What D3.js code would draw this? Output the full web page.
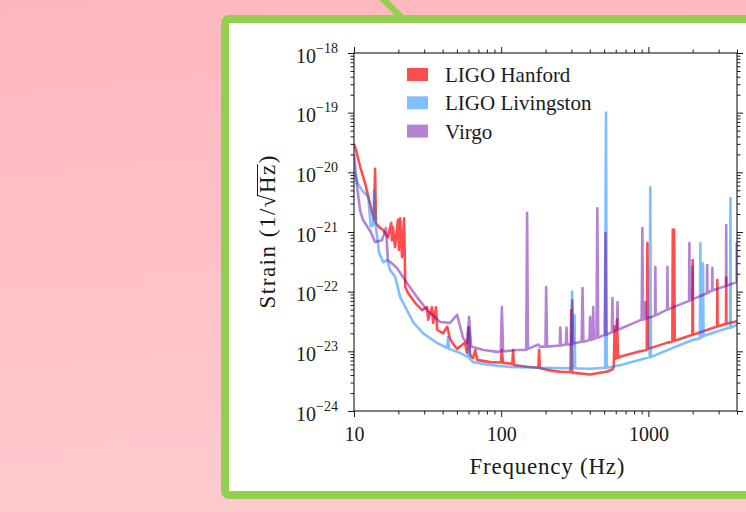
<!DOCTYPE html>
<html>
<head>
<meta charset="utf-8">
<script src="https://cdn.jsdelivr.net/npm/d3@7"></script>
<style>
  html, body { margin: 0; padding: 0; overflow: hidden; }
  svg { display: block; }
</style>
</head>
<body>
<svg id="chart" width="746" height="512"></svg>
<script>
// Amplitude spectral density, [frequency (Hz), strain (1/sqrt(Hz))]
const hanford = [
  [10, 3.0e-20], [10.3, 2.4e-20], [11.0, 1.25e-20], [11.9, 6.6e-21], [12.5, 3.9e-21],
  [13.3, 2.1e-21], [13.7, 1.6e-21], [13.9, 1.15e-20], [14.1, 1.4e-21], [15.0, 1.17e-21],
  [15.8, 1.08e-21], [17.0, 8.2e-22], [17.9, 1.42e-21], [18.1, 7.3e-22], [18.4, 1.2e-21],
  [19.0, 5.6e-22], [19.9, 1.6e-21], [20.2, 5.0e-22], [20.6, 1.7e-21], [21.2, 3.8e-22],
  [21.9, 1.7e-21], [22.3, 1.2e-22], [23.3, 9.5e-23], [26.0, 6.5e-23], [29.0, 4.9e-23],
  [31.4, 5.5e-23], [31.9, 3.4e-23], [33.9, 5.5e-23], [34.5, 3.0e-23], [36.1, 5.5e-23],
  [36.7, 2.3e-23], [40.3, 2.0e-23], [42.9, 2.6e-23], [45.0, 1.6e-23], [47.5, 1.3e-23],
  [50.2, 1.1e-23], [52.6, 1.2e-23], [56.8, 1.4e-23], [58.5, 9.5e-24], [59.8, 2.5e-23],
  [61.5, 8.7e-24], [64.4, 7.7e-24], [66.6, 1.05e-23], [68.7, 7.2e-24], [84.0, 6.6e-24],
  [99.5, 6.5e-24], [101, 1.05e-23], [103, 6.4e-24], [119, 6.2e-24], [120.5, 1.05e-23],
  [122, 5.9e-24], [150, 5.5e-24], [179, 5.3e-24], [181, 1.05e-23], [183, 5.2e-24],
  [225, 4.7e-24], [260, 4.5e-24], [296, 4.5e-24], [299, 4.9e-23], [303, 4.4e-24],
  [402, 4.1e-24], [527, 4.6e-24], [570, 5.0e-24], [582, 5.5e-24], [590, 2.6e-23],
  [600, 7.5e-24], [612, 3.4e-23], [622, 7.8e-24], [650, 8.2e-24], [880, 1.0e-23],
  [975, 1.05e-23], [985, 6.5e-22], [995, 1.1e-23], [1350, 1.4e-23], [1455, 1.45e-23],
  [1465, 1.1e-21], [1480, 1.0e-21], [1495, 1.1e-21], [1510, 1.5e-23], [1990, 1.9e-23],
  [2000, 3.4e-22], [2010, 1.9e-23], [2930, 2.6e-23], [2940, 1.57e-22], [2950, 2.6e-23],
  [3370, 2.9e-23], [3380, 1.7e-22], [3390, 2.9e-23], [4000, 3.2e-23]
];

const livingston = [
  [10, 1.0e-20], [10.6, 6.5e-21], [11.5, 4.8e-21], [12.5, 3.9e-21], [13.0, 1.25e-21],
  [13.5, 1.3e-21], [13.7, 5.0e-21], [14.1, 1.2e-21], [14.8, 4.5e-22], [15.8, 3.1e-22],
  [16.8, 3.4e-22], [17.6, 2.3e-22], [19.0, 1.8e-22], [20.6, 8.1e-23], [22.9, 4.9e-23],
  [25.2, 3.1e-23], [29.5, 2.0e-23], [36.7, 1.38e-23], [42.9, 1.14e-23], [43.6, 1.74e-23],
  [44.3, 1.1e-23], [52.6, 9.4e-24], [59.6, 8.0e-24], [60.5, 2.5e-23], [61.5, 7.5e-24],
  [64.4, 6.6e-24], [84, 5.9e-24], [110, 5.5e-24], [183, 5.3e-24], [300, 5.2e-24],
  [303, 1.0e-22], [306, 5.2e-24], [312, 5.2e-24], [315, 4.0e-23], [318, 5.2e-24],
  [400, 5.1e-24], [508, 5.3e-24], [515, 1.0e-19], [522, 5.3e-24], [650, 5.9e-24],
  [880, 7.2e-24], [1020, 8.0e-24], [1030, 5.6e-21], [1040, 8.0e-24], [1350, 1.05e-23],
  [2000, 1.55e-23], [2240, 1.65e-23], [2255, 6.5e-22], [2270, 1.7e-23], [2330, 1.75e-23],
  [2350, 3.0e-22], [2370, 1.8e-23], [3000, 2.2e-23], [3590, 2.5e-23], [3610, 3.7e-21],
  [3630, 2.5e-23], [4000, 2.8e-23]
];

const virgo = [
  [10, 2.0e-20], [10.2, 1.23e-20], [10.5, 5.7e-21], [11.0, 2.3e-21], [11.5, 1.6e-21],
  [13.0, 1.0e-21], [13.9, 6.8e-22], [15.5, 7.3e-22], [16.5, 1.17e-21], [17.0, 3.4e-22],
  [19.6, 2.5e-22], [22.9, 1.4e-22], [26.8, 8.1e-23], [31.4, 4.9e-23], [38.5, 3.1e-23],
  [45, 3.0e-23], [50.2, 4.1e-23], [55.1, 1.67e-23], [58.8, 1.38e-23], [60.5, 3.8e-23],
  [62.5, 1.2e-23], [64.4, 1.18e-23], [75.6, 1.05e-23], [93.9, 9.8e-24], [99.5, 1.0e-23],
  [101, 5.5e-23], [103, 1.0e-23], [128, 1.05e-23], [148, 1.05e-23], [150, 2.1e-21],
  [152, 1.1e-23], [179, 1.3e-23], [183, 1.2e-23], [200, 1.2e-23], [202, 1.2e-22],
  [205, 1.2e-23], [250, 1.25e-23], [252, 2.5e-23], [255, 1.25e-23], [275, 1.3e-23],
  [278, 2.5e-23], [281, 1.3e-23], [300, 1.3e-23], [304, 7.2e-23], [308, 1.35e-23],
  [352, 1.45e-23], [357, 1.15e-22], [362, 1.45e-23], [398, 1.55e-23], [402, 3.8e-23],
  [406, 1.55e-23], [418, 1.6e-23], [422, 5.5e-23], [426, 1.6e-23], [444, 1.7e-23],
  [450, 2.5e-21], [456, 1.7e-23], [505, 1.9e-23], [511, 9.6e-22], [517, 1.9e-23],
  [565, 2.1e-23], [570, 7.8e-23], [575, 2.1e-23], [612, 2.3e-23], [617, 6.7e-23],
  [622, 2.3e-23], [900, 3.4e-23], [910, 1.17e-21], [920, 3.4e-23], [950, 3.5e-23],
  [955, 6.7e-23], [960, 3.5e-23], [1110, 4.0e-23], [1115, 2.6e-22], [1120, 4.0e-23],
  [1340, 5.0e-23], [1347, 2.6e-22], [1354, 5.0e-23], [1480, 5.5e-23], [1890, 7.0e-23],
  [1900, 6.5e-22], [1910, 7.0e-23], [1990, 7.5e-23], [1997, 2.6e-22], [2005, 7.5e-23],
  [2500, 9.4e-23], [2510, 2.8e-22], [2520, 9.5e-23], [2710, 1.05e-22], [2720, 2.5e-22],
  [2730, 1.05e-22], [3370, 1.25e-22], [3380, 1.31e-21], [3390, 1.25e-22], [3975, 1.45e-22],
  [3985, 6.5e-22], [3995, 1.45e-22], [4000, 1.45e-22]
];

const seriesNames = ["LIGO Hanford", "LIGO Livingston", "Virgo"];
const xMajor = [10, 100, 1000];
const xTickLabels = ["10", "100", "1000"];
const yExponents = [-24, -23, -22, -21, -20, -19, -18];

const colors = ["#ff0000", "#0080ff", "#6a0aa8"];
const alphas = [0.7, 0.5, 0.5];

const plotLeft = 354, plotRight = 737, plotTop = 53, plotBottom = 411;

const svg = d3.select("#chart");

// background
const defs = svg.append("defs");
const grad = defs.append("linearGradient")
  .attr("id", "bg").attr("x1", 0).attr("y1", 0).attr("x2", 0.15).attr("y2", 1);
grad.append("stop").attr("offset", "0%").attr("stop-color", "#ffb7be");
grad.append("stop").attr("offset", "100%").attr("stop-color", "#ffcacd");
defs.append("clipPath").attr("id", "plotclip")
  .append("rect").attr("x", plotLeft).attr("y", plotTop)
  .attr("width", plotRight - plotLeft).attr("height", plotBottom - plotTop);

svg.append("rect").attr("width", 746).attr("height", 512).attr("fill", "url(#bg)");

svg.append("line")
  .attr("x1", 368).attr("y1", -16).attr("x2", 406).attr("y2", 22)
  .attr("stroke", "#92d050").attr("stroke-width", 6.5);

svg.append("rect")
  .attr("x", 225).attr("y", 19).attr("width", 620).attr("height", 476)
  .attr("rx", 4)
  .attr("fill", "#ffffff").attr("stroke", "#92d050").attr("stroke-width", 8);

const x = d3.scaleLog().domain([10, 4000]).range([plotLeft, plotRight]);
const y = d3.scaleLog().domain([1e-24, 1e-18]).range([plotBottom, plotTop]);

const yMajor = yExponents.map(e => Math.pow(10, e));
const isMajor = v => Math.abs(Math.log10(v) - Math.round(Math.log10(v))) < 1e-6;
const xMinor = x.ticks().filter(v => !isMajor(v));
const yMinor = y.ticks().filter(v => !isMajor(v));

const font = "'Liberation Serif', 'Times New Roman', serif";
const ink = "#1a1a1a";

// lines
const line = d3.line().x(d => x(d[0])).y(d => y(d[1]));
const plot = svg.append("g").attr("clip-path", "url(#plotclip)");
[hanford, livingston, virgo].forEach((data, i) => {
  plot.append("path")
    .datum(data)
    .attr("d", line)
    .attr("fill", "none")
    .attr("stroke", colors[i])
    .attr("stroke-opacity", alphas[i])
    .attr("stroke-width", 2.6)
    .attr("stroke-linejoin", "round");
});

// axes
function styleAxis(g) {
  g.select(".domain").remove();
  g.selectAll(".tick line").attr("stroke", ink).attr("stroke-width", 1);
}

const yLeft = svg.append("g").attr("transform", `translate(${plotLeft},0)`)
  .call(d3.axisLeft(y).tickValues(yMajor).tickSize(6).tickFormat(""))
  .call(styleAxis);
svg.append("g").attr("transform", `translate(${plotLeft},0)`)
  .call(d3.axisLeft(y).tickValues(yMinor).tickSize(3.5).tickFormat(""))
  .call(styleAxis);
svg.append("g").attr("transform", `translate(${plotRight},0)`)
  .call(d3.axisRight(y).tickValues(yMajor).tickSize(6).tickFormat(""))
  .call(styleAxis);
svg.append("g").attr("transform", `translate(${plotRight},0)`)
  .call(d3.axisRight(y).tickValues(yMinor).tickSize(3.5).tickFormat(""))
  .call(styleAxis);

const xBottom = svg.append("g").attr("transform", `translate(0,${plotBottom})`)
  .call(d3.axisBottom(x).tickValues(xMajor).tickSize(6).tickFormat((d, i) => xTickLabels[i]))
  .call(styleAxis);
svg.append("g").attr("transform", `translate(0,${plotBottom})`)
  .call(d3.axisBottom(x).tickValues(xMinor).tickSize(3.5).tickFormat(""))
  .call(styleAxis);
svg.append("g").attr("transform", `translate(0,${plotTop})`)
  .call(d3.axisTop(x).tickValues(xMajor).tickSize(6).tickFormat(""))
  .call(styleAxis);
svg.append("g").attr("transform", `translate(0,${plotTop})`)
  .call(d3.axisTop(x).tickValues(xMinor).tickSize(3.5).tickFormat(""))
  .call(styleAxis);

xBottom.selectAll(".tick text")
  .attr("y", 30).attr("dy", 0)
  .attr("font-family", font).attr("font-size", 20).attr("fill", ink);

yLeft.selectAll(".tick text").each(function (d, i) {
  const t = d3.select(this);
  t.text(null)
    .attr("x", -16).attr("dy", 0).attr("y", 9)
    .attr("text-anchor", "end")
    .attr("font-family", font).attr("fill", ink);
  t.append("tspan").attr("font-size", 20).text("10");
  t.append("tspan").attr("font-size", 14).attr("dy", -10)
    .text("\u2212" + Math.abs(yExponents[i]));
});

// frame
svg.append("rect")
  .attr("x", plotLeft).attr("y", plotTop)
  .attr("width", plotRight - plotLeft).attr("height", plotBottom - plotTop)
  .attr("fill", "none").attr("stroke", ink).attr("stroke-width", 1.1);

// axis titles
svg.append("text")
  .attr("x", 547).attr("y", 474)
  .attr("text-anchor", "middle")
  .attr("font-family", font).attr("font-size", 23).attr("fill", ink)
  .attr("textLength", 155).attr("lengthAdjust", "spacing")
  .text("Frequency (Hz)");

const titleSize = 23;
const yTitleG = svg.append("g").attr("transform", "translate(275,232) rotate(-90)");
const yTitle = yTitleG.append("text")
  .attr("text-anchor", "middle")
  .attr("font-family", font).attr("font-size", titleSize).attr("fill", ink)
  .attr("textLength", 153).attr("lengthAdjust", "spacing")
  .text("Strain (1/\u221AHz)");
// bar over "Hz", joined to the radical sign
const tnode = yTitle.node();
const rootEnd = tnode.getEndPositionOfChar(10);
const hzEnd = tnode.getEndPositionOfChar(12);
yTitleG.append("line")
  .attr("x1", rootEnd.x - 1).attr("x2", hzEnd.x + 0.5)
  .attr("y1", -0.76 * titleSize).attr("y2", -0.76 * titleSize)
  .attr("stroke", ink).attr("stroke-width", 1);

// legend
const legend = svg.append("g");
seriesNames.forEach((name, i) => {
  const ly = 68 + i * 28.3;
  legend.append("rect")
    .attr("x", 407).attr("y", ly).attr("width", 21).attr("height", 13)
    .attr("fill", colors[i]).attr("fill-opacity", alphas[i]);
  legend.append("text")
    .attr("x", 445).attr("y", ly + 14)
    .attr("font-family", font).attr("font-size", 21).attr("fill", ink)
    .text(name);
});
</script>
</body>
</html>
